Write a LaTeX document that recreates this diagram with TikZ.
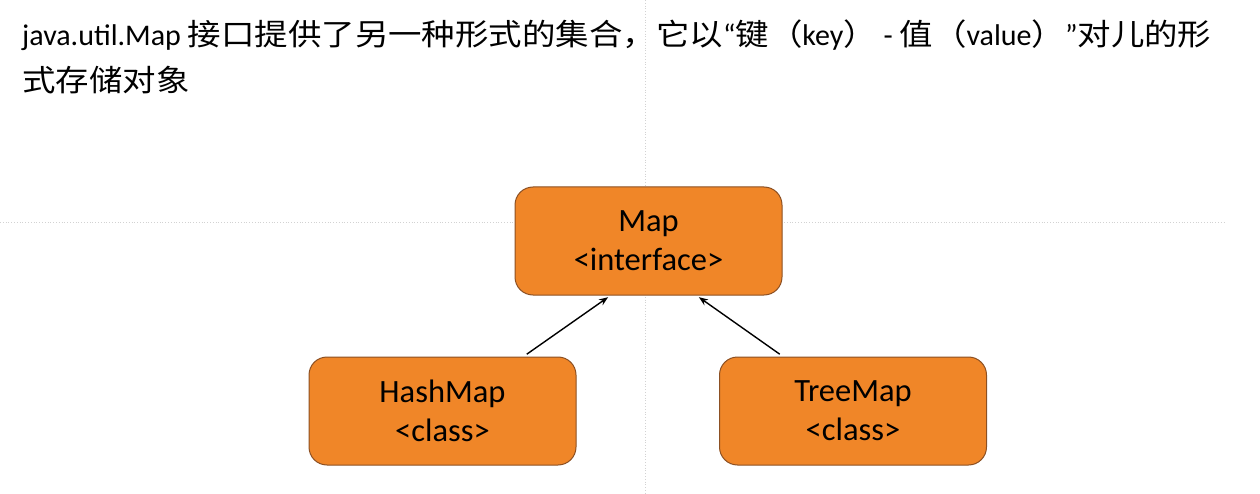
\documentclass[tikz,border=0pt]{standalone}
\usepackage{fontspec}
\setmainfont{Carlito}
\newfontfamily\cjk[FakeStretch=1.115]{Noto Sans CJK SC}
\usetikzlibrary{arrows.meta}
\definecolor{boxorange}{RGB}{240,134,40}
\definecolor{boxborder}{RGB}{140,80,35}
\begin{document}
\begin{tikzpicture}
[x=1pt,y=1pt,
  boxdecorate/.style={shape=rectangle,rounded corners=18pt,draw=boxborder,line width=1pt,
    fill=boxorange,minimum width=267pt,minimum height=108pt,align=center,
    font=\fontsize{32.5}{39}\selectfont},%
  arrowdecorate/.style={->,>={Stealth[length=9pt,width=7pt]},line width=1.4pt,shorten >=3pt,shorten <=4pt},%
  guidedecorate/.style={gray!35,dotted,line width=0.8pt},%
  titledecorate/.style={anchor=base west,inner sep=0pt,font=\fontsize{30}{38}\selectfont}]
\useasboundingbox (0,0) rectangle (1260,-494);
% guides
\draw[guidedecorate] (645,0) -- (645,-494);
\draw[guidedecorate] (0,-222) -- (1225,-222);
% title
\node (title1) at (22,-46) [titledecorate]
  {java.util.Map {\cjk 接口提供了另一种形式的集合，它以}“{\cjk 键（}key{\cjk ）} - {\cjk 值（}value{\cjk ）}”{\cjk 对儿的形}};
\node (title2) at (22,-92) [titledecorate]
  {\cjk 式存储对象};
% nodes or boxes
\node (map) at (648.5,-241) [boxdecorate] {Map\\<interface>};
\node (hash) at (442.5,-411) [boxdecorate] {HashMap\\<class>};
\node (tree) at (853,-411) [boxdecorate] {TreeMap\\<class>};
% edges or arrows
\path
([xshift=81pt]hash.north) edge[arrowdecorate] ([xshift=-38pt]map.south)
([xshift=-70pt]tree.north) edge[arrowdecorate] ([xshift=48pt]map.south);
\end{tikzpicture}
\end{document}
